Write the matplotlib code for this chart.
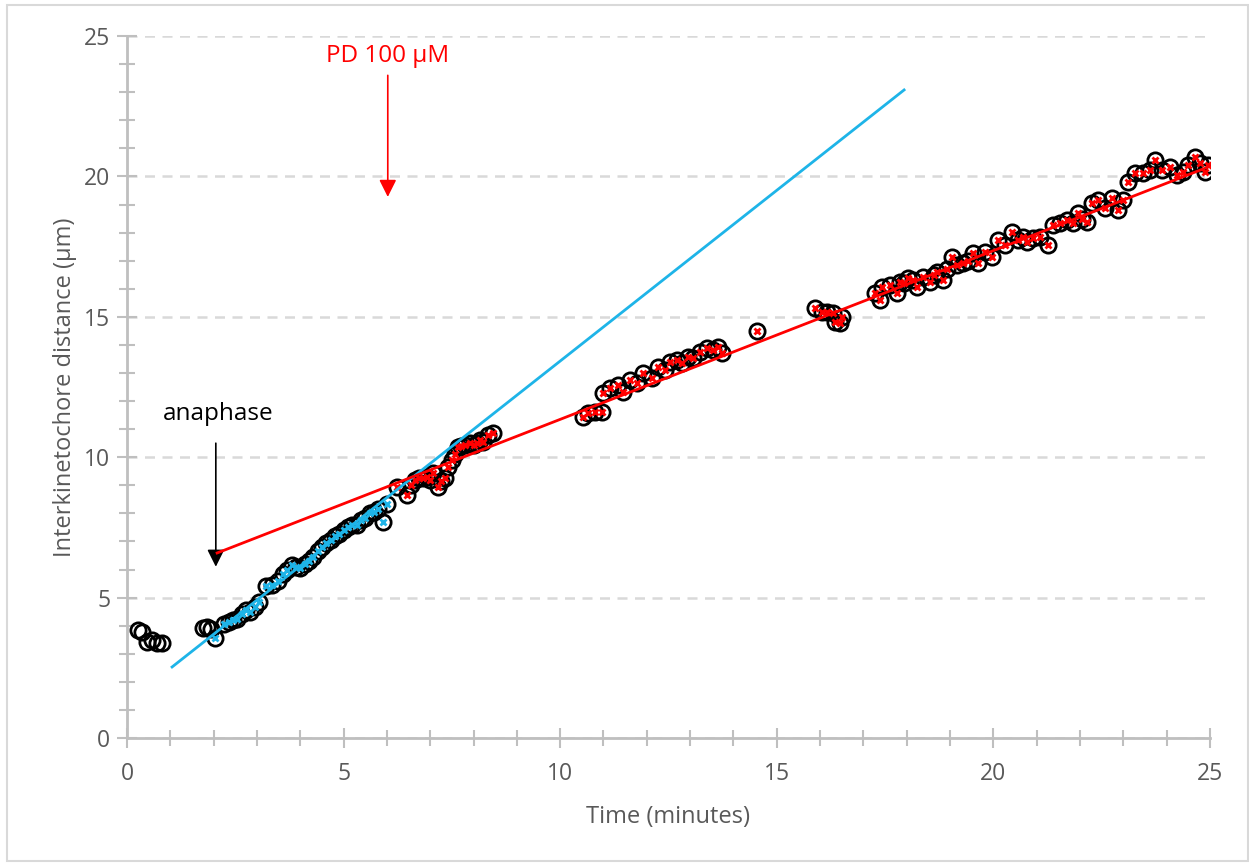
import numpy as np
import matplotlib.pyplot as plt
from matplotlib.patches import Rectangle

plt.rcParams['font.family'] = ['Open Sans', 'DejaVu Sans']

# points before anaphase (black circles only)
t_pre = [0.25, 0.35, 0.46, 0.58, 0.69, 0.81, 1.75, 1.85, 1.95]
d_pre = [3.85, 3.77, 3.42, 3.49, 3.38, 3.39, 3.92, 3.95, 3.88]

# control phase (blue markers)
t_blue = [2.03, 2.25, 2.35, 2.45, 2.55, 2.65, 2.75, 2.85, 2.95, 3.05,
          3.2, 3.35, 3.48, 3.6, 3.7, 3.8, 3.9, 4.0, 4.1, 4.2,
          4.3, 4.4, 4.5, 4.6, 4.7, 4.8, 4.9, 5.0, 5.1, 5.2,
          5.3, 5.4, 5.5, 5.6, 5.7, 5.8, 5.9, 6.0]
d_blue = [3.56, 4.05, 4.13, 4.2, 4.25, 4.4, 4.55, 4.5, 4.65, 4.85,
          5.4, 5.45, 5.58, 5.85, 6.0, 6.15, 6.1, 6.05, 6.2, 6.3,
          6.45, 6.65, 6.8, 6.95, 7.05, 7.2, 7.25, 7.4, 7.5, 7.6,
          7.6, 7.75, 7.85, 8.0, 8.05, 8.15, 7.7, 8.35]

# PD treated (red markers)
t_red = [6.23, 6.46, 6.55, 6.65, 6.75, 6.83, 6.92, 7.0, 7.06, 7.18,
         7.25, 7.34, 7.41, 7.5, 7.57, 7.64, 7.72, 7.8, 7.92, 8.0,
         8.08, 8.15, 8.22, 8.33, 8.45,
         10.53, 10.64, 10.8, 10.96, 11.0, 11.15, 11.33, 11.45, 11.61, 11.77,
         11.91, 12.12, 12.26, 12.42, 12.53, 12.7, 12.81, 12.95, 13.07, 13.23,
         13.39, 13.53, 13.64, 13.74,
         14.54,
         15.88, 16.04, 16.16, 16.3, 16.34, 16.46, 16.5,
         17.27, 17.38, 17.43, 17.61, 17.77, 17.84, 17.93, 18.03, 18.14, 18.24,
         18.37, 18.54, 18.62, 18.7, 18.84, 18.94, 19.04, 19.16, 19.3, 19.42,
         19.53, 19.64, 19.81, 19.97, 20.11, 20.27, 20.43, 20.57, 20.68, 20.78,
         20.91, 21.08, 21.26, 21.38, 21.54, 21.7, 21.84, 21.95, 22.05, 22.16,
         22.28, 22.41, 22.58, 22.74, 22.88, 22.99, 23.11, 23.27, 23.45, 23.62,
         23.73, 23.89, 24.08, 24.24, 24.38, 24.49, 24.65, 24.77, 24.88, 24.95]
d_red = [8.94, 8.65, 9.0, 9.19, 9.25, 9.26, 9.3, 9.19, 9.44, 8.94,
         9.15, 9.26, 9.65, 9.9, 10.1, 10.36, 10.4, 10.43, 10.5, 10.45,
         10.5, 10.6, 10.54, 10.79, 10.86,
         11.43, 11.57, 11.61, 11.61, 12.29, 12.46, 12.57, 12.32, 12.75, 12.64,
         13.0, 12.82, 13.21, 13.1, 13.39, 13.46, 13.35, 13.57, 13.53, 13.75,
         13.89, 13.82, 13.92, 13.71,
         14.49,
         15.31, 15.17, 15.17, 15.13, 14.81, 14.78, 14.99,
         15.85, 15.6, 16.06, 16.13, 15.85, 16.24, 16.2, 16.38, 16.3, 16.06,
         16.42, 16.24, 16.5, 16.6, 16.31, 16.7, 17.13, 16.84, 16.92, 17.0,
         17.27, 16.92, 17.31, 17.13, 17.73, 17.56, 18.02, 17.73, 17.85, 17.66,
         17.81, 17.84, 17.56, 18.27, 18.34, 18.45, 18.34, 18.7, 18.5, 18.38,
         19.05, 19.16, 18.87, 19.23, 18.8, 19.16, 19.8, 20.12, 20.12, 20.23,
         20.58, 20.23, 20.33, 20.05, 20.16, 20.41, 20.69, 20.48, 20.16, 20.41]

# fitted lines
blue_fit_t = [1.04, 17.94]
blue_fit_d = [2.53, 23.08]
red_fit_t = [2.08, 25.0]
red_fit_d = [6.59, 20.36]

fig = plt.figure(figsize=(12.49, 8.64), dpi=100)
ax = fig.add_axes([0.1017, 0.1458, 0.867, 0.8125])

fig.patches.append(Rectangle((0.0056, 0.004), 0.9936, 0.99, transform=fig.transFigure,
                             fill=False, edgecolor='#d9d9d9', linewidth=1.5))

gray = '#bfbfbf'
txt = '#595959'

ax.set_xlim(0, 25)
ax.set_ylim(0, 25)
ax.set_xticks(np.arange(0, 26, 5))
ax.set_yticks(np.arange(0, 26, 5))
ax.set_xticks(np.arange(0, 26, 1), minor=True)
ax.set_yticks(np.arange(0, 26, 1), minor=True)
ax.tick_params(which='major', direction='inout', length=14, width=1.5, color=gray,
               labelsize=16.5, labelcolor=txt, pad=5)
ax.tick_params(which='minor', direction='inout', length=11, width=1.5, color=gray)
ax.tick_params(axis='x', which='major', pad=10)
for s in ['top', 'right']:
    ax.spines[s].set_visible(False)
for s in ['left', 'bottom']:
    ax.spines[s].set_color(gray)
    ax.spines[s].set_linewidth(2)
ax.grid(axis='y', which='major', color='#d9d9d9', linestyle=(0, (4, 3)), linewidth=1.8)
ax.set_axisbelow(True)

all_t = t_pre + t_blue + t_red
all_d = d_pre + d_blue + d_red
ax.plot(all_t, all_d, 'o', ms=11, mfc='none', mec='black', mew=2, zorder=3)
ax.plot(t_blue, d_blue, 'x', ms=4, mec='#1eb4e8', mew=2, zorder=4)
ax.plot(t_red, d_red, 'x', ms=4, mec='#ff0000', mew=2, zorder=4)

ax.plot(blue_fit_t, blue_fit_d, color='#1eb4e8', lw=2, zorder=5)
ax.plot(red_fit_t, red_fit_d, color='#ff0000', lw=2, zorder=5)

ax.set_xlabel('Time (minutes)', fontsize=17, color=txt, labelpad=14)
ax.set_ylabel('Interkinetochore distance (µm)', fontsize=17, color=txt, labelpad=5)

ax.annotate('', xy=(6.02, 19.27), xytext=(6.02, 23.6),
            arrowprops=dict(arrowstyle='-|>', color='#ff0000', lw=1.2,
                            mutation_scale=26, shrinkA=0, shrinkB=0))
ax.text(6.02, 24.3, 'PD 100 µM', color='#ff0000', fontsize=17.5, ha='center', va='center')

ax.annotate('', xy=(2.05, 6.1), xytext=(2.05, 10.5),
            arrowprops=dict(arrowstyle='-|>', color='black', lw=1.2,
                            mutation_scale=26, shrinkA=0, shrinkB=0))
ax.text(2.1, 11.55, 'anaphase', color='black', fontsize=17.5, ha='center', va='center')

fig.savefig('out.png', dpi=100)
